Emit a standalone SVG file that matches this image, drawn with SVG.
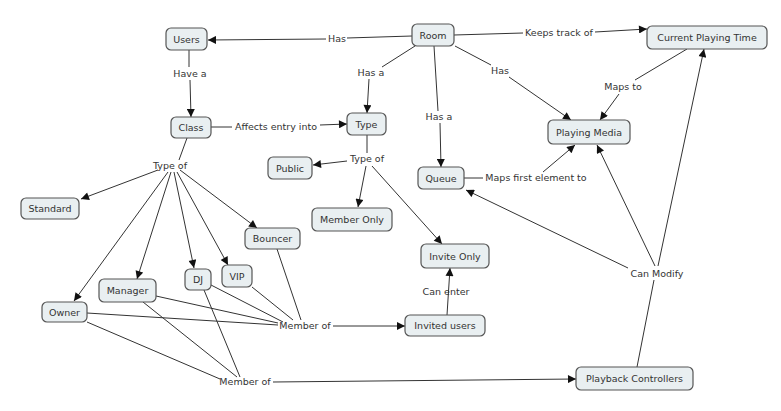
<svg xmlns="http://www.w3.org/2000/svg" width="781" height="411" viewBox="0 0 781 411">
<style>
.n rect{fill:#e9eff1;stroke:#555;stroke-width:1.2}
text{font-family:"DejaVu Sans",Verdana,sans-serif;font-size:9.5px;fill:#333;text-anchor:middle}
.c line,.c polyline{stroke:#333;stroke-width:1;fill:none}
.a{marker-end:url(#ah)}
</style>
<defs>
<marker id="ah" viewBox="0 0 10 10" refX="10" refY="5" markerWidth="9" markerHeight="8" orient="auto" markerUnits="userSpaceOnUse"><path d="M0,0L10,5L0,10z" fill="#111"/></marker>
</defs>
<rect width="781" height="411" fill="#fff"/>
<g class="c" id="connectors">
<line x1="412" y1="36" x2="347" y2="38"/>
<line class="a" x1="326" y1="39" x2="208" y2="40"/>
<line x1="189" y1="50" x2="189" y2="67"/>
<line class="a" x1="190" y1="80" x2="191" y2="117"/>
<line x1="211" y1="127" x2="232" y2="127"/>
<line class="a" x1="320" y1="125" x2="347" y2="124"/>
<line x1="415" y1="46" x2="382" y2="67"/>
<line class="a" x1="369" y1="79" x2="367" y2="113"/>
<line x1="434" y1="46" x2="438" y2="111"/>
<line class="a" x1="440" y1="123" x2="441" y2="167"/>
<line x1="455" y1="46" x2="491" y2="65"/>
<line class="a" x1="509" y1="77" x2="571" y2="120"/>
<line x1="454" y1="35" x2="523" y2="33"/>
<line class="a" x1="595" y1="32" x2="647" y2="29"/>
<line x1="687" y1="49" x2="635" y2="80"/>
<line class="a" x1="619" y1="94" x2="600" y2="120"/>
<line x1="187" y1="138" x2="179" y2="160"/>
<line class="a" x1="158" y1="170" x2="81" y2="199"/>
<line class="a" x1="168" y1="172" x2="74" y2="301"/>
<line class="a" x1="171" y1="172" x2="137" y2="279"/>
<line class="a" x1="174" y1="172" x2="194" y2="268"/>
<line class="a" x1="177" y1="172" x2="228" y2="265"/>
<line class="a" x1="180" y1="170" x2="257" y2="228"/>
<line x1="367" y1="135" x2="367" y2="153"/>
<line class="a" x1="347" y1="161" x2="313" y2="165"/>
<line class="a" x1="366" y1="166" x2="358" y2="207"/>
<line class="a" x1="372" y1="166" x2="442" y2="244"/>
<line x1="464" y1="178" x2="483" y2="178"/>
<line class="a" x1="543" y1="172" x2="575" y2="145"/>
<line class="a" x1="628" y1="268" x2="466" y2="190"/>
<line class="a" x1="655" y1="266" x2="597" y2="145"/>
<line class="a" x1="658" y1="266" x2="704" y2="49"/>
<line x1="637" y1="367" x2="654" y2="280"/>
<line x1="277" y1="249" x2="301" y2="320"/>
<line x1="252" y1="287" x2="293" y2="320"/>
<line x1="211" y1="285" x2="283" y2="322"/>
<line x1="156" y1="296" x2="278" y2="323"/>
<line x1="87" y1="313" x2="278" y2="325"/>
<line class="a" x1="333" y1="326" x2="405" y2="326"/>
<line class="a" x1="447" y1="315" x2="450" y2="268"/>
<line x1="204" y1="290" x2="240" y2="377"/>
<line x1="143" y1="302" x2="237" y2="377"/>
<line x1="87" y1="322" x2="220" y2="379"/>
<line class="a" x1="273" y1="382" x2="576" y2="379"/>
</g>
<g id="labels">
<text x="337" y="42">Has</text>
<text x="190" y="77">Have a</text>
<text x="276" y="130">Affects entry into</text>
<text x="371" y="76">Has a</text>
<text x="439" y="120">Has a</text>
<text x="500" y="74">Has</text>
<text x="559" y="36">Keeps track of</text>
<text x="623" y="90">Maps to</text>
<text x="170" y="169">Type of</text>
<text x="367" y="162">Type of</text>
<text x="536" y="181">Maps first element to</text>
<text x="657" y="277">Can Modify</text>
<text x="446" y="295">Can enter</text>
<text x="305" y="329">Member of</text>
<text x="245" y="385">Member of</text>
</g>
<g class="n" id="users"><rect x="166" y="28" width="41" height="22" rx="5"/><text x="186.5" y="43">Users</text></g>
<g class="n" id="class"><rect x="171" y="117" width="40" height="21" rx="5"/><text x="191" y="131">Class</text></g>
<g class="n" id="room"><rect x="412" y="24" width="42" height="22" rx="5"/><text x="433" y="39">Room</text></g>
<g class="n" id="type"><rect x="347" y="113" width="39" height="22" rx="5"/><text x="366.5" y="128">Type</text></g>
<g class="n" id="cpt"><rect x="647" y="26" width="120" height="23" rx="5"/><text x="707" y="41">Current Playing Time</text></g>
<g class="n" id="media"><rect x="548" y="120" width="82" height="24" rx="5"/><text x="589" y="136">Playing Media</text></g>
<g class="n" id="standard"><rect x="21" y="198" width="58" height="21" rx="5"/><text x="50" y="212">Standard</text></g>
<g class="n" id="public"><rect x="268" y="157" width="44" height="22" rx="5"/><text x="290" y="172">Public</text></g>
<g class="n" id="queue"><rect x="418" y="167" width="46" height="22" rx="5"/><text x="441" y="182">Queue</text></g>
<g class="n" id="memberonly"><rect x="312" y="208" width="80" height="23" rx="5"/><text x="352" y="223">Member Only</text></g>
<g class="n" id="bouncer"><rect x="245" y="228" width="55" height="21" rx="5"/><text x="272.5" y="242">Bouncer</text></g>
<g class="n" id="inviteonly"><rect x="421" y="244" width="68" height="24" rx="5"/><text x="455" y="260">Invite Only</text></g>
<g class="n" id="owner"><rect x="42" y="302" width="45" height="20" rx="5"/><text x="64.5" y="316">Owner</text></g>
<g class="n" id="manager"><rect x="99" y="279" width="57" height="23" rx="5"/><text x="127.5" y="294">Manager</text></g>
<g class="n" id="dj"><rect x="185" y="269" width="26" height="21" rx="5"/><text x="198" y="283">DJ</text></g>
<g class="n" id="vip"><rect x="222" y="265" width="30" height="22" rx="5"/><text x="237" y="280">VIP</text></g>
<g class="n" id="invited"><rect x="405" y="315" width="80" height="21" rx="5"/><text x="445" y="329">Invited users</text></g>
<g class="n" id="playback"><rect x="576" y="367" width="117" height="23" rx="5"/><text x="634.5" y="382">Playback Controllers</text></g>
</svg>
